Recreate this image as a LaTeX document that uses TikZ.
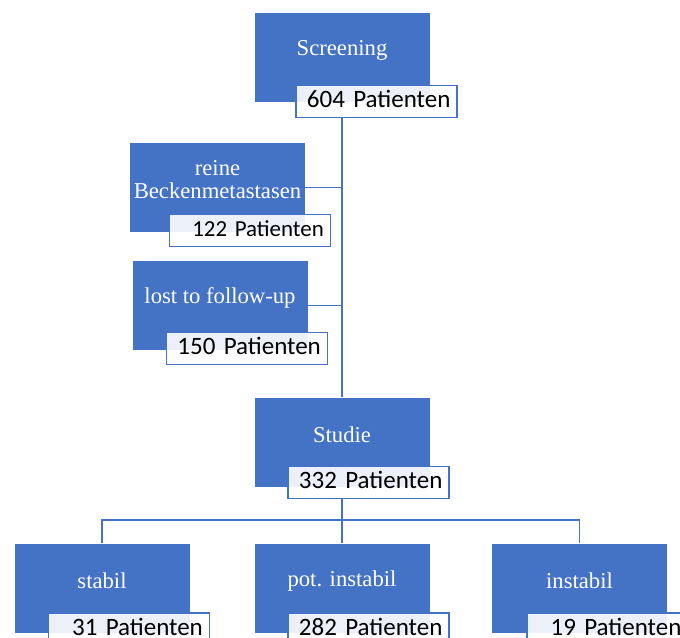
\documentclass[tikz,border=0pt]{standalone}
\usepackage{fontspec}
\setmainfont{Liberation Serif}
\newfontfamily\countfont{Carlito}

\definecolor{smartblue}{HTML}{4472C4}

\tikzset{
  blockbox/.style={fill=smartblue, draw=none, inner sep=0pt,
    minimum width=131.25pt, minimum height=66.75pt},
  blocktext/.style={text=white, align=center, yshift=5.6pt,
    font=\fontsize{17}{17.3}\selectfont},
  countbox/.style={draw=smartblue, line width=1.1pt, fill=white,
    fill opacity=0.9, text opacity=1, inner xsep=5pt, inner ysep=0pt,
    minimum width=120.75pt, minimum height=24pt, text width=110.75pt,
    text height=12pt, text depth=3pt,
    align=right, font=\countfont\fontsize{18.75}{20}\selectfont},
  linkline/.style={smartblue, line width=1.2pt}
}

\begin{document}
\begin{tikzpicture}[x=0.75pt, y=-0.75pt]
      \useasboundingbox (0,0) rectangle (680,637);
      \clip (0,0) rectangle (680,637);

      % screening and drop-outs
      \node[blockbox, label={[blocktext]center:Screening}] (scr) at (342,57.5) {};
      \node[countbox] (n604) at (376.5,101.5) {604 Patienten};

      \node[blockbox, label={[blocktext]center:reine\\Beckenmetastasen}] (rein) at (217.5,187.5) {};
      \node[countbox, font=\countfont\fontsize{17.2}{18}\selectfont] (n122) at (250,230.5) {122 Patienten};

      \node[blockbox, label={[blocktext]center:lost to follow-up}] (lost) at (220,305.5) {};
      \node[countbox] (n150) at (247,348.5) {150 Patienten};

      % study
      \node[blockbox, label={[blocktext]center:Studie}] (stud) at (342,442) {};
      \node[countbox] (n332) at (368.5,482.5) {332 Patienten};

      % groups
      \node[blockbox, label={[blocktext]center:stabil}] (stab) at (102,588) {};
      \node[countbox] (n31) at (129,629) {31 Patienten};

      \node[blockbox, label={[blocktext]center:pot. instabil}] (pot) at (342,588) {};
      \node[countbox] (n282) at (368.5,629) {282 Patienten};

      \node[blockbox, label={[blocktext]center:instabil}] (inst) at (579.5,588) {};
      \node[countbox] (n19) at (607.5,629) {19 Patienten};

      \coordinate (split) at (342,520);

      \draw[linkline] (scr |- n604.south) -- (stud.north);
      \draw[linkline] (rein.east) -- (rein.east -| scr);
      \draw[linkline] (lost.east) -- (lost.east -| scr);
      \draw[linkline] (stud |- n332.south) -- (pot.north);
      \draw[linkline] (stab.north) |- (split) -| (inst.north);
    \end{tikzpicture}
\end{document}
